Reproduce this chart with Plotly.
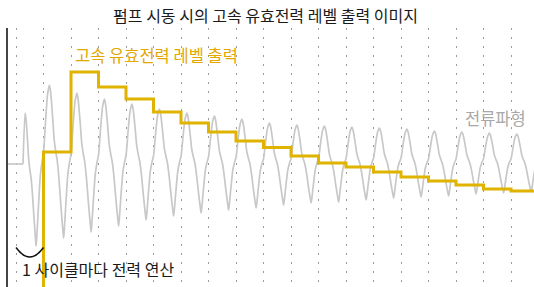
import plotly.graph_objects as go

# ---- data ----
# x unit = one power-line cycle (dotted grid = cycle boundaries), y = relative level
cycle_grid = list(range(0, 19))

# current waveform: first partial peak, then per-cycle peaks and troughs
wave_start_x = -0.3
wave_switch_x = 0.255
first_peak = (0.33, 51)
peak_offset = 0.215
trough_offset = 0.73
peak_levels = [79, 71, 65, 60, 55, 51, 48, 45, 41, 39, 38, 37, 36, 35, 33, 32, 31, 30, 29.5]   # cycles 1..19
trough_levels = [-82, -74, -68, -62, -56, -52, -49, -46, -44, -41, -39, -38, -36, -34, -33, -32, -30, -29, -28]  # cycles 0..18

# shape of one half cycle: (time fraction, level fraction)
falling_shape = [(0.08, 0.96), (0.22, 0.80), (0.34, 0.64), (0.44, 0.57), (0.56, 0.50), (0.68, 0.38), (0.82, 0.20), (0.95, 0.05)]
rising_shape = [(0.05, 0.05), (0.18, 0.25), (0.32, 0.44), (0.44, 0.52), (0.56, 0.58), (0.70, 0.76), (0.86, 0.94)]

# high-speed active power level: one value per cycle, starting at cycle 1
power_start = 1
power_levels = [12, 92, 77, 65, 52, 41, 32, 23, 16.5, 8, 1, -3, -8, -13, -17, -21, -25, -27]

title_text = "펌프 시동 시의 고속 유효전력 레벨 출력 이미지"
label_power = "고속 유효전력 레벨 출력"
label_current = "전류파형"
label_cycle = "1 사이클마다 전력 연산"

X_RANGE = [-0.291, 18.836]
Y_RANGE = [-123, 136]

FIG_W, FIG_H = 534, 287

# ---- build wave polyline ----
def half(x0, y0, x1, y1, shape, falling):
    xs, ys = [], []
    for t, f in shape:
        xs.append(x0 + (x1 - x0) * t)
        if falling:
            ys.append(y1 + (y0 - y1) * f)
        else:
            ys.append(y0 + (y1 - y0) * f)
    return xs, ys

wx = [wave_switch_x, first_peak[0]]
wy = [0, first_peak[1]]
prev_x, prev_y = first_peak
for k, tl in enumerate(trough_levels):
    tx = k + trough_offset
    xs, ys = half(prev_x, prev_y, tx, tl, falling_shape, True)
    wx += xs + [tx]
    wy += ys + [tl]
    px = k + 1 + peak_offset
    py = peak_levels[k]
    xs, ys = half(tx, tl, px, py, rising_shape, False)
    wx += xs + [px]
    wy += ys + [py]
    prev_x, prev_y = px, py

fig = go.Figure()
fig.add_trace(go.Scatter(x=[wave_start_x, wave_switch_x], y=[0, 0], mode="lines",
                         line=dict(color="#c8c8c8", width=1.7), hoverinfo="skip"))
fig.add_trace(go.Scatter(x=wx, y=wy, mode="lines",
                         line=dict(color="#c8c8c8", width=1.7, shape="spline", smoothing=0.7),
                         hoverinfo="skip"))

# power step line
sx = [power_start] + [power_start + i for i in range(len(power_levels))] + [X_RANGE[1] + 0.5]
sy = [Y_RANGE[0] - 30] + power_levels + [power_levels[-1]]
fig.add_trace(go.Scatter(x=sx, y=sy, mode="lines",
                         line=dict(color="#dfb300", width=3, shape="hv"), hoverinfo="skip"))

# bracket arc spanning one cycle
ARC_X0, ARC_X1 = cycle_grid[0], cycle_grid[1]
ARC_TOP, ARC_DEPTH = -83.5, 19
fig.add_shape(type="path",
              path=f"M {ARC_X0},{ARC_TOP} Q {(ARC_X0 + ARC_X1) / 2},{ARC_TOP - ARC_DEPTH} {ARC_X1},{ARC_TOP}",
              xref="x", yref="y", line=dict(color="#111", width=1.5))

font = "Noto Sans CJK KR"
fig.add_annotation(x=2.06, y=109, text=label_power, showarrow=False, xanchor="left", yanchor="middle",
                   font=dict(family=font, size=16.5, color="#e3a800"))
fig.add_annotation(x=16.25, y=46.5, text=label_current, showarrow=False, xanchor="left", yanchor="middle",
                   font=dict(family=font, size=16.5, color="#a8a8a8"))
fig.add_annotation(x=0.15, y=-104.5, text=label_cycle, showarrow=False, xanchor="left", yanchor="middle",
                   font=dict(family=font, size=16, color="#1a1a1a"))

fig.update_layout(
    width=FIG_W, height=FIG_H,
    margin=dict(l=8, r=0, t=28, b=0),
    paper_bgcolor="white", plot_bgcolor="white",
    showlegend=False,
    title=dict(text=title_text, x=265.5 / FIG_W, xref="container", xanchor="center",
               y=1 - 16.5 / FIG_H, yref="container", yanchor="middle",
               font=dict(family=font, size=16, color="#1a1a1a")),
    xaxis=dict(range=X_RANGE, showgrid=True, tick0=0, dtick=1, gridcolor="#9a9a9a", gridwidth=1,
               griddash="2px,7px", zeroline=False, showticklabels=False, showline=False, ticks=""),
    yaxis=dict(range=Y_RANGE, showgrid=False, zeroline=False, showticklabels=False,
               showline=True, linecolor="#444", linewidth=1.5, ticks=""),
)

fig.write_html("out.html", config={"displayModeBar": False},
               post_script="document.body.style.margin='0';")
